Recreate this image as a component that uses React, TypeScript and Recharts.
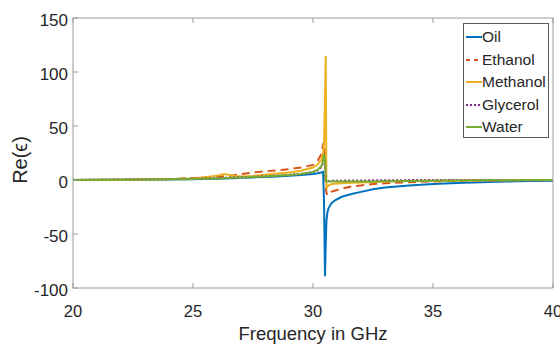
import React from "react";
import { LineChart, Line, XAxis, YAxis } from "recharts";

const freq = [20, 22, 24, 25, 26, 26.3, 26.7, 27, 27.5, 28, 28.5, 29, 29.5, 30, 30.2, 30.35, 30.42, 30.46, 30.5, 30.53, 30.56, 30.6, 30.65, 30.75, 30.9, 31.2, 31.6, 32, 32.5, 33, 34, 35, 36, 37, 38, 39, 40];
const oil = [0, 0.2, 0.5, 0.8, 1.2, 1.4, 1.7, 2, 2.4, 2.8, 3.3, 3.9, 4.6, 5.6, 6.2, 7, 7.5, -20, -89, -60, -38, -30, -26, -22, -19, -15.5, -13, -11, -8.5, -7, -5, -3.8, -2.8, -2, -1.4, -1, -0.6];
const ethanol = [0, 0.3, 1, 1.8, 3, 3.5, 4.5, 5.5, 7, 8, 9, 10, 11.5, 14, 18, 24, 33, 35, 20, -5, -12, -14, -13, -11, -10, -8, -6, -5, -3.8, -3, -2, -1.3, -0.8, -0.5, -0.3, -0.2, -0.1];
const methanol = [0, 0.2, 0.8, 1.5, 4, 5.5, 4, 3.2, 3.8, 4.8, 6, 7, 8.5, 11.5, 14.5, 19, 25, 35, 75, 115, -8, -6, -5, -4, -3.5, -3, -2.5, -2.2, -1.8, -1.5, -1, -0.7, -0.5, -0.3, -0.2, -0.1, 0];
const glycerol = [0.2, 0.4, 0.8, 1.2, 1.8, 2, 2.3, 2.6, 3, 3.5, 4, 4.8, 5.8, 7.5, 9, 12, 16, 20, 14, 0, -1, -1, -0.9, -0.8, -0.7, -0.6, -0.5, -0.4, -0.3, -0.2, -0.1, 0, 0, 0, 0, 0, 0];
const water = [0, 0.2, 0.6, 1, 1.5, 1.7, 2, 2.3, 2.8, 3.3, 3.9, 4.6, 5.6, 7.5, 9.5, 13, 18, 24, 18, -1, -1.5, -1.5, -1.5, -1.5, -1.5, -1.5, -1.5, -1.4, -1.3, -1.2, -1, -0.8, -0.5, -0.3, -0.2, -0.1, 0];

const xTicks = [20, 25, 30, 35, 40];
const yTicks = [-100, -50, 0, 50, 100, 150];

const data = freq.map((f, i) => ({
  freq: f,
  oil: oil[i],
  ethanol: ethanol[i],
  methanol: methanol[i],
  glycerol: glycerol[i],
  water: water[i],
}));

const series = [
  { key: "oil", name: "Oil", color: "#0072BD", dash: undefined as string | undefined },
  { key: "ethanol", name: "Ethanol", color: "#D95319", dash: "8 5" },
  { key: "methanol", name: "Methanol", color: "#EDB120", dash: undefined },
  { key: "glycerol", name: "Glycerol", color: "#7E2F8E", dash: "2 2" },
  { key: "water", name: "Water", color: "#77AC30", dash: undefined },
];

const AXIS = "#9a9a9a";
const TEXT = "#262626";
const FONT = "'Liberation Sans', Arial, sans-serif";
const TL = 5;

const BottomTick = (p: any) => (
  <g>
    <line x1={p.x} x2={p.x} y1={p.y} y2={p.y - TL} stroke={AXIS} />
    <text x={p.x} y={p.y + 29} textAnchor="middle" fontSize={16.5} fill={TEXT} fontFamily={FONT}>
      {p.payload.value}
    </text>
  </g>
);
const LeftTick = (p: any) => (
  <g>
    <line x1={p.x} x2={p.x + TL} y1={p.y} y2={p.y} stroke={AXIS} />
    <text x={p.x - 5} y={p.y + 8} textAnchor="end" fontSize={17} fill={TEXT} fontFamily={FONT}>
      {p.payload.value}
    </text>
  </g>
);
const TopTick = (p: any) => (
  <line x1={p.x} x2={p.x} y1={p.y} y2={p.y + TL} stroke={AXIS} />
);
const RightTick = (p: any) => (
  <line x1={p.x} x2={p.x - TL} y1={p.y} y2={p.y} stroke={AXIS} />
);

const Legend = () => (
  <div
    style={{
      position: "absolute",
      left: 463,
      top: 23,
      width: 86,
      height: 115,
      boxSizing: "border-box",
      border: "1px solid #5a5a5a",
      background: "#fff",
      paddingTop: 2,
      fontFamily: FONT,
      fontSize: 15.5,
      color: TEXT,
    }}
  >
    {series.map((s) => (
      <div key={s.key} style={{ display: "flex", alignItems: "center", height: 22.5 }}>
        <svg width={17} height={10} style={{ marginLeft: 1, marginRight: 0 }}>
          <line x1={1} x2={17} y1={5} y2={5} stroke={s.color} strokeWidth={2} strokeDasharray={s.dash ? (s.key === "ethanol" ? "4 4" : "2 2") : undefined} />
        </svg>
        <span style={{ lineHeight: "22px" }}>{s.name}</span>
      </div>
    ))}
  </div>
);

export default function App() {
  return (
    <div style={{ position: "absolute", left: 0, top: 0, width: 560, height: 349, background: "#fff" }}>
      <LineChart width={560} height={349} data={data} margin={{ top: 0, right: 0, bottom: 0, left: 0 }}>
        <XAxis
          dataKey="freq"
          type="number"
          domain={[20, 40]}
          ticks={xTicks}
          interval={0}
          height={61}
          tickSize={0}
          tickMargin={0}
          tickLine={false}
          axisLine={{ stroke: AXIS }}
          tick={<BottomTick />}
          label={{
            content: () => (
              <text x={313} y={340} textAnchor="middle" fontSize={18.5} fill={TEXT} fontFamily={FONT}>
                Frequency in GHz
              </text>
            ),
          }}
        />
        <XAxis
          xAxisId="top"
          orientation="top"
          dataKey="freq"
          type="number"
          domain={[20, 40]}
          ticks={xTicks}
          interval={0}
          height={18}
          tickSize={0}
          tickMargin={0}
          tickLine={false}
          axisLine={{ stroke: AXIS }}
          tick={<TopTick />}
        />
        <YAxis
          type="number"
          domain={[-100, 150]}
          ticks={yTicks}
          interval={0}
          width={73}
          tickSize={0}
          tickMargin={0}
          tickLine={false}
          axisLine={{ stroke: AXIS }}
          tick={<LeftTick />}
          label={{
            content: () => (
              <text transform="translate(27,160) rotate(-90)" textAnchor="middle" fontSize={20} fill={TEXT} fontFamily={FONT}>
                Re(ϵ)
              </text>
            ),
          }}
        />
        <YAxis
          yAxisId="right"
          orientation="right"
          type="number"
          domain={[-100, 150]}
          ticks={yTicks}
          interval={0}
          width={7}
          tickSize={0}
          tickMargin={0}
          tickLine={false}
          axisLine={{ stroke: AXIS }}
          tick={<RightTick />}
        />
        {series.map((s) => (
          <Line
            key={s.key}
            dataKey={s.key}
            name={s.name}
            type="linear"
            stroke={s.color}
            strokeWidth={2}
            strokeDasharray={s.dash}
            dot={false}
            activeDot={false}
            isAnimationActive={false}
          />
        ))}
      </LineChart>
      <Legend />
    </div>
  );
}
